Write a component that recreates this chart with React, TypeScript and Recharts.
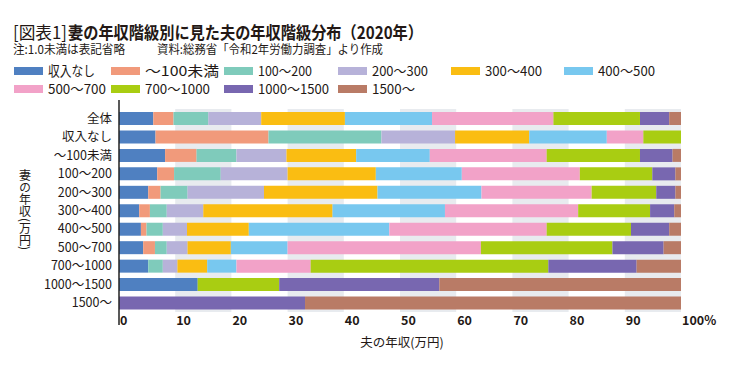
import { BarChart, Bar, XAxis, YAxis, ReferenceArea } from "recharts"

// 妻の年収階級 (rows)
const categories = ["全体", "収入なし", "～100未満", "100～200", "200～300", "300～400", "400～500", "500～700", "700～1000", "1000～1500", "1500～"]

// 夫の年収階級 (stacked series)
const seriesNames = ["収入なし", "～100未満", "100～200", "200～300", "300～400", "400～500", "500～700", "700～1000", "1000～1500", "1500～"]

const noIncome = [6.1, 6.5, 8.2, 6.8, 5.2, 3.6, 3.9, 4.3, 5.2, 14.0, 0]
const under100 = [3.6, 20.1, 5.6, 3.0, 2.2, 1.9, 1.0, 2.1, 0, 0, 0]
const r100to200 = [6.2, 20.1, 7.1, 8.3, 4.8, 3.0, 2.9, 2.1, 2.6, 0, 0]
const r200to300 = [9.4, 13.1, 8.9, 11.9, 13.6, 6.5, 4.3, 3.7, 2.6, 0, 0]
const r300to400 = [14.9, 13.2, 12.4, 15.7, 20.2, 23.0, 11.0, 7.7, 5.3, 0, 0]
const r400to500 = [15.5, 13.8, 13.1, 15.3, 18.5, 20.0, 25.0, 10.1, 5.2, 0, 0]
const r500to700 = [21.6, 6.5, 20.8, 21.0, 19.6, 23.7, 28.0, 34.4, 13.2, 0, 0]
const r700to1000 = [15.4, 6.7, 16.6, 12.9, 11.5, 12.8, 15.0, 23.4, 42.3, 14.5, 0]
const r1000to1500 = [5.2, 0, 5.8, 4.1, 3.4, 4.3, 6.8, 9.1, 15.7, 28.5, 33.1]
const over1500 = [2.1, 0, 1.5, 1.0, 1.0, 1.2, 2.1, 3.1, 7.9, 43.0, 66.9]

const xTicks = [0, 10, 20, 30, 40, 50, 60, 70, 80, 90, 100]
const shadedBands = [[10, 20], [30, 40], [50, 60], [70, 80], [90, 100]]

const seriesValues = [noIncome, under100, r100to200, r200to300, r300to400, r400to500, r500to700, r700to1000, r1000to1500, over1500]
const COLORS = ["#4f80c1", "#f19a7b", "#7fcbbb", "#b7b2d9", "#fabd12", "#78c8ef", "#f2a2c8", "#a9cd12", "#7867b0", "#b97b66"]

const data = categories.map((name, i) => {
    const row: Record<string, string | number> = { name }
    seriesNames.forEach((s, j) => {
        row[s] = seriesValues[j][i]
    })
    return row
})

const FONT = '"Noto Sans CJK JP", "Noto Sans", sans-serif'
const INK = "#231815"

// legend layout (two rows, six columns)
const legendCols = [14, 111, 224, 338, 451, 564]
const legendTextW = [47, 74, 54, 56, 57, 57, 58, 65, 71, 43]

function XTick(props: any) {
    const { x, y, payload } = props
    const label = payload.value === 100 ? "100%" : String(payload.value)
    return (
        <text x={x + 1} y={y} fontSize={12.5} fontWeight={700} fill={INK} fontFamily={FONT} textAnchor="start">
            {label}
        </text>
    )
}

function YTick(props: any) {
    const { x, y, payload } = props
    return (
        <text x={x} y={y} dy="0.36em" fontSize={12.5} fill={INK} fontFamily={FONT} textAnchor="end">
            {payload.value}
        </text>
    )
}

export default function App() {
    return (
        <div style={{ position: "absolute", left: 0, top: 0, width: 741, height: 369, background: "#fff", fontFamily: FONT }}>
            <BarChart
                width={741}
                height={369}
                layout="vertical"
                data={data}
                margin={{ top: 100, right: 60, bottom: 14, left: 8 }}
                barSize={13}
            >
                {shadedBands.map(([a, b]) => (
                    <ReferenceArea key={a} x1={a} x2={b} fill="#e8ebef" fillOpacity={1} stroke="none" />
                ))}
                <XAxis
                    type="number"
                    domain={[0, 100]}
                    ticks={xTicks}
                    axisLine={false}
                    tickLine={false}
                    tickSize={0}
                    tickMargin={0}
                    height={30}
                    tick={<XTick />}
                    interval={0}
                />
                <YAxis
                    type="category"
                    dataKey="name"
                    width={111}
                    tickLine={false}
                    tickSize={5}
                    tickMargin={2}
                    axisLine={{ stroke: "#222", strokeWidth: 1.5 }}
                    padding={{ top: 9, bottom: 13 }}
                    tick={<YTick />}
                    interval={0}
                />
                {seriesNames.map((s, i) => (
                    <Bar key={s} dataKey={s} stackId="a" fill={COLORS[i]} isAnimationActive={false} />
                ))}
            </BarChart>
            <svg width={741} height={369} style={{ position: "absolute", left: 0, top: 0, pointerEvents: "none" }}>
                <text x={13} y={39} fontSize={17} fill={INK} fontFamily={FONT} textLength={54} lengthAdjust="spacingAndGlyphs">
                    [図表1]
                </text>
                <text x={68} y={39} fontSize={17} fontWeight={700} fill={INK} fontFamily={FONT} textLength={355} lengthAdjust="spacingAndGlyphs">
                    妻の年収階級別に見た夫の年収階級分布（2020年）
                </text>
                <text x={13} y={54} fontSize={12} fill={INK} fontFamily={FONT} textLength={112} lengthAdjust="spacingAndGlyphs">
                    注:1.0未満は表記省略
                </text>
                <text x={157} y={54} fontSize={12} fill={INK} fontFamily={FONT} textLength={226} lengthAdjust="spacingAndGlyphs">
                    資料:総務省「令和2年労働力調査」より作成
                </text>
                {seriesNames.map((s, i) => {
                    const col = legendCols[i % 6]
                    const cy = i < 6 ? 71 : 89
                    return (
                        <g key={s}>
                            <rect x={col} y={cy - 4} width={29} height={8} fill={COLORS[i]} />
                            <text x={col + 34} y={cy + 5} fontSize={13.5} fill={INK} fontFamily={FONT} textLength={legendTextW[i]} lengthAdjust="spacingAndGlyphs">
                                {s}
                            </text>
                        </g>
                    )
                })}
                <text x={25} y={210} fontSize={12} fill={INK} fontFamily={FONT} textAnchor="middle" style={{ writingMode: "vertical-rl" }}>
                    妻の年収(万円)
                </text>
                <text x={402} y={347} fontSize={12.5} fill={INK} fontFamily={FONT} textAnchor="middle">
                    夫の年収(万円)
                </text>
            </svg>
        </div>
    )
}
